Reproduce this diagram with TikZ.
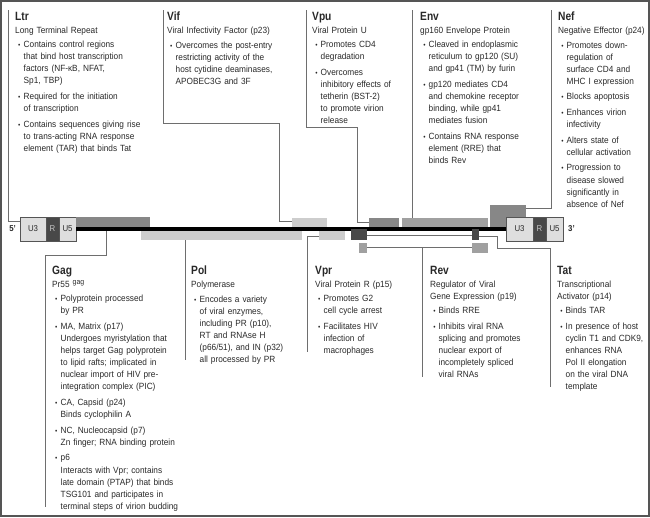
\documentclass[tikz,border=0pt]{standalone}
\usepackage{fontspec}
\setmainfont{Liberation Sans}[FakeStretch=0.92]
\newfontfamily\headfont{Liberation Sans}[FakeStretch=0.85]
\usepackage{enumitem}
\usepackage{tikz}
\usetikzlibrary{positioning}
\setlist[itemize]{label={\fontsize{7}{7}\selectfont\textbullet}, leftmargin=8.5pt, labelsep=3.2pt, topsep=2.5pt, itemsep=3.5pt, parsep=0pt, partopsep=0pt}

\definecolor{framegray}{RGB}{85,85,85}
\definecolor{leadgray}{RGB}{110,110,110}
\definecolor{ltrfill}{RGB}{222,222,222}
\definecolor{rdark}{RGB}{72,72,72}
\definecolor{bardark}{RGB}{135,135,135}
\definecolor{barmid}{RGB}{160,160,160}
\definecolor{barlight}{RGB}{205,205,205}
\definecolor{textgray}{RGB}{40,40,40}

\newcommand{\infofont}{\fontsize{9}{12.1}\selectfont\spaceskip=2.3pt plus 0.5pt minus 0.3pt\relax\xspaceskip=2.5pt\relax}
\newcommand{\genehead}[2]{{\headfont\fontsize{12}{13}\selectfont\bfseries #1\par}\vspace{0.5pt}#2\par}

\begin{document}
\begin{tikzpicture}[
x=1pt, y=-1pt,
node distance=0pt,
info/.style={anchor=north west, inner sep=0pt, text width=135pt, align=left, font=\infofont, text=textgray},
bar/.style={anchor=north west, inner sep=0pt, outer sep=0pt, minimum height=9pt},
ltrpart/.style={draw=framegray, line width=0.8pt, fill=ltrfill, inner sep=0pt, outer sep=0pt, minimum height=24pt, font=\fontsize{8.5}{9}\selectfont, text=textgray},
prime/.style={inner sep=0pt, font=\fontsize{8.5}{9}\selectfont\bfseries, text=textgray},
lead/.style={draw=leadgray, line width=0.8pt},
splice/.style={draw=leadgray, line width=0.6pt, double=white, double distance=1pt}
]
\useasboundingbox (0,0) rectangle (650,517);

% nef sits behind the 3' LTR
\node[bar, fill=bardark, minimum width=36pt, minimum height=23pt] (nef) at (490,205) {};

% LTRs
\node[ltrpart, anchor=north west, minimum width=26pt] (u3left) at (20,217) {U3};
\node[ltrpart, right=of u3left, minimum width=13pt, fill=rdark, text=gray!45] (rleft) {R};
\node[ltrpart, right=of rleft, minimum width=17pt] (u5left) {U5};
\node[prime, left=4pt of u3left] (five) {5’};
\node[ltrpart, anchor=north west, minimum width=27pt] (u3right) at (506,217) {U3};
\node[ltrpart, right=of u3right, minimum width=13pt, fill=rdark, text=gray!45] (rright) {R};
\node[ltrpart, right=of rright, minimum width=17pt] (u5right) {U5};
\node[prime, right=5pt of u5right] (three) {3’};

% gene bars
\node[bar, fill=bardark, minimum width=74pt, minimum height=10pt] (gag) at (76,217) {};
\node[bar, fill=barlight, minimum width=161pt] (pol) at (141,231) {};
\node[bar, fill=barlight, minimum width=35pt] (vif) at (292,218) {};
\node[bar, fill=barlight, minimum width=26pt] (vpr) at (319,231) {};
\node[bar, fill=bardark, minimum width=30pt] (vpu) at (369,218) {};
\node[bar, fill=barmid, minimum width=86pt] (env) at (402,218) {};

% corners of the leader lines
\coordinate (ltrtop) at (8,10);
\coordinate (viftop) at (163,10);
\coordinate (vifknee) at (279,123);
\coordinate (vputop) at (306,10);
\coordinate (vpuknee) at (357,127);
\coordinate (envtop) at (412,10);
\coordinate (neftop) at (551,10);
\coordinate (gagknee) at (106,255);
\coordinate (gagend) at (45,507);
\coordinate (polend) at (185,360);
\coordinate (vprend) at (307,352);
\coordinate (revend) at (422,377);
\coordinate (tatknee) at (550,248);
\coordinate (tatend) at (550,387);

\draw[lead] (ltrtop) |- ([yshift=8pt]u3left.west);
\draw[lead] (viftop) |- (vifknee) |- ([yshift=1pt]vif.west);
\draw[lead] (vputop) |- (vpuknee) |- (vpu.west);
\draw[lead] (envtop) -- (envtop |- env.north);
\draw[lead] (neftop) |- ([yshift=-3pt]nef.north east);
\draw[lead] (gag.south -| gagknee) -- (gagknee) -| (gagend);
\draw[lead] (pol.south -| polend) -- (polend);
\draw[lead] ([yshift=-1pt]vpr.west) -| (vprend);

% provirus backbone
\draw[line width=4pt] (u5left.east) -- (u3right.west);

% tat and rev exons
\node[bar, fill=rdark, minimum width=16pt, minimum height=11pt] (tat1) at (351,229) {};
\node[bar, fill=rdark, minimum width=7pt, minimum height=11pt] (tat2) at (472,229) {};
\node[bar, fill=barmid, minimum width=8pt, minimum height=10pt] (rev1) at (359,243) {};
\node[bar, fill=barmid, minimum width=16pt, minimum height=10pt] (rev2) at (472,243) {};
\draw[splice] ([yshift=-1.5pt]tat1.east) -- ([yshift=-1.5pt]tat2.west);
\draw[splice] (rev1.east) -- (rev2.west);
\draw[lead] (rev1.east -| revend) -- (revend);
\draw[lead] ([yshift=-1.5pt]tat2.east) -- ++(18,0) |- (tatknee) -- (tatend);

% upper text blocks
\node[info] (ltrinfo) at (15,12) {\genehead{Ltr}{Long Terminal Repeat}
\begin{itemize}
\item Contains control regions\\ that bind host transcription\\ factors (NF-κB, NFAT,\\ Sp1, TBP)
\item Required for the initiation\\ of transcription
\item Contains sequences giving rise\\ to trans-acting RNA response\\ element (TAR) that binds Tat
\end{itemize}};
\node[info] (vifinfo) at (167,12) {\genehead{Vif}{Viral Infectivity Factor (p23)}
\begin{itemize}
\item Overcomes the post-entry\\ restricting activity of the\\ host cytidine deaminases,\\ APOBEC3G and 3F
\end{itemize}};
\node[info] (vpuinfo) at (312,12) {\genehead{Vpu}{Viral Protein U}
\begin{itemize}
\item Promotes CD4\\ degradation
\item Overcomes\\ inhibitory effects of\\ tetherin (BST-2)\\ to promote virion\\ release
\end{itemize}};
\node[info] (envinfo) at (420,12) {\genehead{Env}{gp160 Envelope Protein}
\begin{itemize}
\item Cleaved in endoplasmic\\ reticulum to gp120 (SU)\\ and gp41 (TM) by furin
\item gp120 mediates CD4\\ and chemokine receptor\\ binding, while gp41\\ mediates fusion
\item Contains RNA response\\ element (RRE) that\\ binds Rev
\end{itemize}};
\node[info] (nefinfo) at (558,12) {\genehead{Nef}{Negative Effector (p24)}
\begin{itemize}
\item Promotes down-\\ regulation of\\ surface CD4 and\\ MHC I expression
\item Blocks apoptosis
\item Enhances virion\\ infectivity
\item Alters state of\\ cellular activation
\item Progression to\\ disease slowed\\ significantly in\\ absence of Nef
\end{itemize}};

% lower text blocks
\node[info] (gaginfo) at (52,266) {\genehead{Gag}{Pr55 \raisebox{3pt}{\fontsize{7.5}{8}\selectfont gag}}
\begin{itemize}
\item Polyprotein processed\\ by PR
\item MA, Matrix (p17)\\ Undergoes myristylation that\\ helps target Gag polyprotein\\ to lipid rafts; implicated in\\ nuclear import of HIV pre-\\ integration complex (PIC)
\item CA, Capsid (p24)\\ Binds cyclophilin A
\item NC, Nucleocapsid (p7)\\ Zn finger; RNA binding protein
\item p6\\ Interacts with Vpr; contains\\ late domain (PTAP) that binds\\ TSG101 and participates in\\ terminal steps of virion budding
\end{itemize}};
\node[info] (polinfo) at (191,266) {\genehead{Pol}{Polymerase}
\begin{itemize}
\item Encodes a variety\\ of viral enzymes,\\ including PR (p10),\\ RT and RNAse H\\ (p66/51), and IN (p32)\\ all processed by PR
\end{itemize}};
\node[info] (vprinfo) at (315,266) {\genehead{Vpr}{Viral Protein R (p15)}
\begin{itemize}
\item Promotes G2\\ cell cycle arrest
\item Facilitates HIV\\ infection of\\ macrophages
\end{itemize}};
\node[info] (revinfo) at (430,266) {\genehead{Rev}{Regulator of Viral\\ Gene Expression (p19)}
\begin{itemize}
\item Binds RRE
\item Inhibits viral RNA\\ splicing and promotes\\ nuclear export of\\ incompletely spliced\\ viral RNAs
\end{itemize}};
\node[info] (tatinfo) at (557,266) {\genehead{Tat}{Transcriptional\\ Activator (p14)}
\begin{itemize}
\item Binds TAR
\item In presence of host\\ cyclin T1 and CDK9,\\ enhances RNA\\ Pol II elongation\\ on the viral DNA\\ template
\end{itemize}};

\draw[framegray, line width=1.2pt] (1,1) rectangle (649,516);
\end{tikzpicture}
\end{document}
